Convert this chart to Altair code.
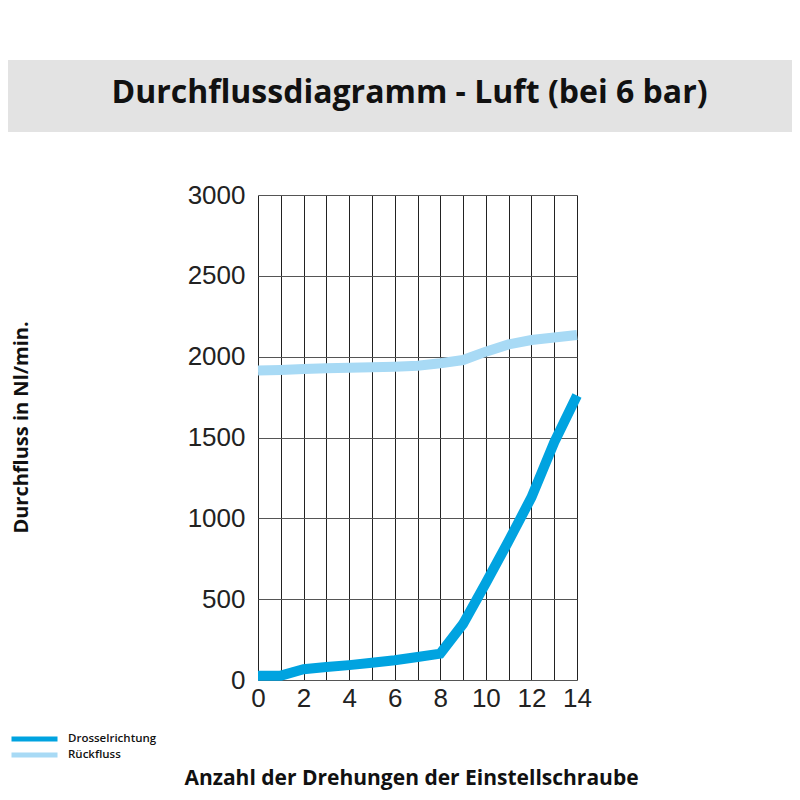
import altair as alt
import pandas as pd

# Anzahl der Drehungen der Einstellschraube
drehungen = list(range(15))
# Durchfluss in Nl/min.
drosselrichtung = [27, 27, 67, 80, 92, 107, 122, 142, 163, 347, 600, 860, 1130, 1470, 1760]
rueckfluss = [1914, 1918, 1924, 1928, 1932, 1935, 1938, 1944, 1959, 1979, 2031, 2076, 2103, 2119, 2134]

serien = ["Drosselrichtung", "Rückfluss"]
farben = ["#00a3e0", "#a8daf5"]

df = pd.DataFrame({
    "Drehungen": drehungen,
    "Drosselrichtung": drosselrichtung,
    "Rückfluss": rueckfluss,
}).melt(id_vars="Drehungen", var_name="Richtung", value_name="Durchfluss")

band = (
    alt.Chart(pd.DataFrame({"b": [0]}))
    .mark_rect(color="#e3e3e3")
    .encode(
        x=alt.value(-250), x2=alt.value(534),
        y=alt.value(-135), y2=alt.value(-63),
    )
)

linien = (
    alt.Chart(df)
    .mark_line(strokeWidth=10, strokeCap="butt", strokeJoin="miter")
    .encode(
        x=alt.X(
            "Drehungen:Q",
            scale=alt.Scale(domain=[0, 14], nice=False, zero=False),
            axis=alt.Axis(
                title="Anzahl der Drehungen der Einstellschraube",
                values=drehungen,
                labelExpr="datum.value % 2 == 0 ? datum.label : ''",
                labelFlush=False,
                labelPadding=5,
                gridColor="#222222",
                titleX=153, titleY=104,
                titleAlign="center", titleBaseline="alphabetic",
            ),
        ),
        y=alt.Y(
            "Durchfluss:Q",
            scale=alt.Scale(domain=[0, 3000], nice=False),
            axis=alt.Axis(
                title="Durchfluss in Nl/min.",
                values=[0, 500, 1000, 1500, 2000, 2500, 3000],
                format="d",
                labelPadding=13,
                gridColor="#555555",
                titleAngle=270,
                titleX=-231, titleY=232,
                titleAlign="center", titleBaseline="alphabetic",
            ),
        ),
        color=alt.Color(
            "Richtung:N",
            scale=alt.Scale(domain=serien, range=farben),
            sort=serien,
            legend=alt.Legend(
                title=None,
                orient="none",
                legendX=-249, legendY=537,
                symbolType="stroke",
                symbolSize=2116,
                symbolStrokeWidth=5,
                clipHeight=14,
                labelFont="Open Sans",
                labelFontSize=11.5,
                labelFontWeight=600,
                labelColor="#111111",
                labelOffset=8,
                rowPadding=2,
            ),
        ),
        order="Drehungen:Q",
    )
)

chart = (
    alt.layer(band, linien)
    .properties(
        width=319,
        height=485,
        autosize=alt.AutoSizeParams(type="none"),
        padding={"left": 250, "top": 187, "right": 215, "bottom": 112},
        title=alt.TitleParams(
            "Durchflussdiagramm - Luft (bei 6 bar)",
            font="Open Sans", fontSize=32, fontWeight="bold", color="#111111",
            anchor="middle", frame="group", dx=-8, offset=-75, baseline="alphabetic",
        ),
    )
    .configure_view(stroke=None)
    .configure_axis(
        labelFont="Liberation Sans",
        labelFontSize=26,
        labelColor="#222222",
        ticks=False,
        domain=False,
        gridOpacity=1,
        gridWidth=1,
        titleFont="Open Sans",
        titleFontWeight="bold",
        titleColor="#111111",
    )
    .configure_axisX(titleFontSize=21)
    .configure_axisY(titleFontSize=20)
)

chart.save("out.html", embed_options={"renderer": "svg", "actions": False})
